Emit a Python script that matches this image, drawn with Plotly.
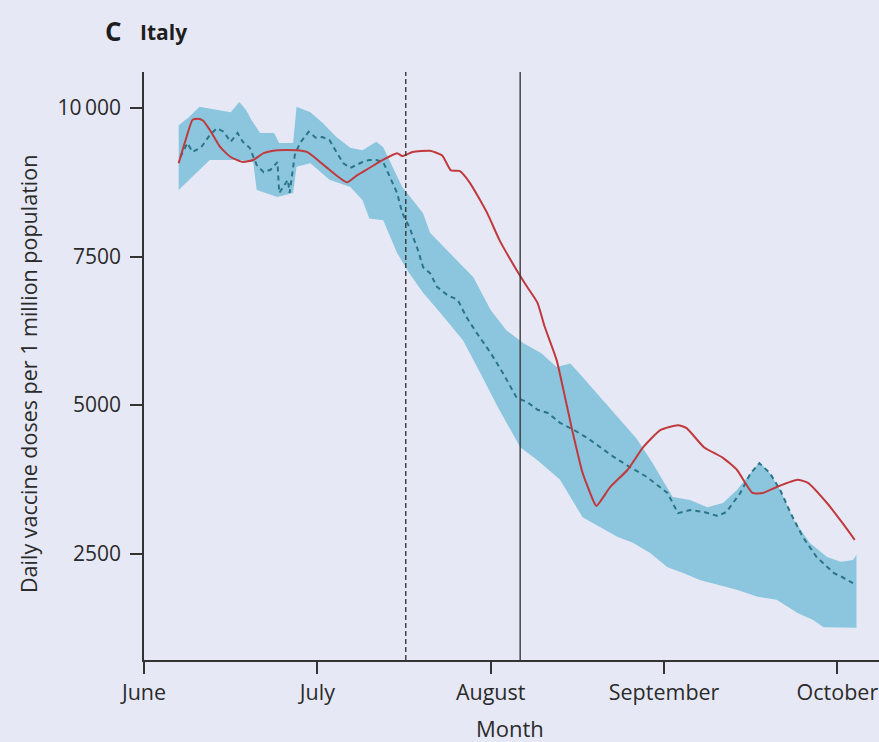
import plotly.graph_objects as go

# x positions are in months after 1 June (0 = June, 1 = July, ...)
month_labels = ["June", "July", "August", "September", "October"]
month_ticks = [0, 1, 2, 3, 4]

y_ticks = [2500, 5000, 7500, 10000]
y_tick_labels = ["2500", "5000", "7500", "10\u2009000"]

# Observed daily doses (red line)
observed_x = [0.20, 0.24, 0.28, 0.31, 0.34, 0.38, 0.44, 0.50, 0.57, 0.63, 0.69, 0.77, 0.88,
              0.94, 1.00, 1.07, 1.17, 1.23, 1.30, 1.38, 1.46, 1.49, 1.55, 1.65, 1.72, 1.77,
              1.82, 1.88, 1.98, 2.05, 2.15, 2.21, 2.27, 2.31, 2.38, 2.42, 2.47, 2.53, 2.59,
              2.61, 2.69, 2.79, 2.88, 2.98, 3.08, 3.13, 3.23, 3.34, 3.42, 3.51, 3.57, 3.65,
              3.77, 3.83, 3.94, 4.03, 4.10]
observed_y = [9070, 9460, 9800, 9820, 9790, 9630, 9340, 9175, 9090, 9125, 9240, 9290, 9290,
              9260, 9130, 8960, 8750, 8870, 8990, 9130, 9240, 9190, 9260, 9280, 9200, 8950,
              8940, 8740, 8230, 7780, 7270, 6990, 6720, 6330, 5760, 5250, 4580, 3860, 3400,
              3300, 3620, 3910, 4290, 4580, 4660, 4610, 4290, 4110, 3910, 3520, 3520, 3620,
              3740, 3690, 3350, 3010, 2730]

# Counterfactual mean (dashed line)
mean_x = [0.21, 0.25, 0.28, 0.33, 0.38, 0.42, 0.46, 0.50, 0.54, 0.57, 0.61, 0.65, 0.69, 0.73,
          0.77, 0.78, 0.83, 0.84, 0.87, 0.90, 0.95, 0.99, 1.03, 1.07, 1.11, 1.15, 1.19, 1.23,
          1.26, 1.30, 1.34, 1.38, 1.42, 1.46, 1.49, 1.53, 1.58, 1.61, 1.65, 1.69, 1.75, 1.81,
          1.86, 1.92, 2.00, 2.07, 2.15, 2.21, 2.27, 2.33, 2.40, 2.48, 2.56, 2.63, 2.71, 2.80,
          2.90, 3.02, 3.08, 3.15, 3.23, 3.31, 3.36, 3.44, 3.50, 3.55, 3.61, 3.67, 3.73, 3.80,
          3.88, 3.98, 4.03, 4.09]
mean_y = [9175, 9410, 9260, 9340, 9545, 9660, 9600, 9430, 9580, 9430, 9330, 9040, 8920, 8960,
          9090, 8570, 8790, 8570, 9210, 9410, 9600, 9500, 9510, 9460, 9260, 9070, 8990, 9040,
          9090, 9125, 9125, 9090, 8840, 8570, 8230, 8000, 7610, 7320, 7220, 6990, 6850, 6770,
          6480, 6210, 5875, 5540, 5120, 5050, 4920, 4865, 4700, 4580, 4440, 4290, 4125, 3960,
          3790, 3520, 3180, 3230, 3200, 3130, 3200, 3520, 3855, 4020, 3855, 3570, 3180, 2780,
          2440, 2170, 2100, 2000]

# Uncertainty interval (shaded band)
upper_x = [0.20, 0.26, 0.32, 0.40, 0.50, 0.55, 0.59, 0.62, 0.67, 0.75, 0.78, 0.86, 0.88, 0.96,
           1.03, 1.11, 1.19, 1.26, 1.34, 1.38, 1.42, 1.49, 1.55, 1.61, 1.65, 1.82, 1.90, 2.00,
           2.09, 2.19, 2.29, 2.38, 2.46, 2.53, 2.61, 2.71, 2.84, 2.93, 2.99, 3.05, 3.15, 3.25,
           3.34, 3.42, 3.50, 3.55, 3.61, 3.67, 3.75, 3.84, 3.94, 4.02, 4.09, 4.11]
upper_y = [9710, 9850, 10020, 9980, 9930, 10100, 9960, 9800, 9580, 9580, 9410, 9410, 10020,
           9930, 9750, 9510, 9330, 9290, 9430, 9340, 9090, 8670, 8450, 8230, 7900, 7390, 7150,
           6600, 6260, 6040, 5875, 5640, 5700, 5470, 5200, 4865, 4440, 4040, 3740, 3450, 3400,
           3280, 3350, 3570, 3855, 4040, 3855, 3570, 3060, 2680, 2440, 2360, 2390, 2475]
lower_x = [0.20, 0.30, 0.38, 0.46, 0.55, 0.63, 0.65, 0.77, 0.86, 0.88, 0.96, 1.07, 1.19, 1.26,
           1.30, 1.38, 1.46, 1.53, 1.61, 1.71, 1.84, 1.94, 2.04, 2.17, 2.27, 2.40, 2.53, 2.63,
           2.73, 2.82, 2.92, 3.02, 3.11, 3.21, 3.31, 3.42, 3.54, 3.65, 3.77, 3.86, 3.92, 4.02,
           4.11]
lower_y = [8620, 8900, 9125, 9125, 9125, 9090, 8620, 8500, 8570, 9010, 9070, 8790, 8670, 8450,
           8140, 8110, 7560, 7220, 6890, 6550, 6090, 5540, 4970, 4290, 4070, 3740, 3110, 2950,
           2780, 2680, 2510, 2270, 2170, 2050, 1970, 1890, 1770, 1720, 1500, 1380, 1260, 1260,
           1250]

# Reference dates marked with vertical lines
announcement_x = 1.51
introduction_x = 2.17

FONT = "Open Sans, Lato, DejaVu Sans, sans-serif"
INK = "#2b2b2b"
BG = "#e6e9f5"

W, H = 879, 742
ML, MR, MT, MB = 144, 0, 72, 82
PW, PH = W - ML - MR, H - MT - MB


def px(x):
    return (x - ML) / PW


def py(y):
    return (H - MB - y) / PH


fig = go.Figure()

band_x = upper_x + lower_x[::-1]
band_y = upper_y + lower_y[::-1]
fig.add_trace(go.Scatter(
    x=band_x, y=band_y, mode="lines", fill="toself",
    fillcolor="rgb(140,198,222)", line=dict(width=0), hoverinfo="skip",
    showlegend=False,
))
fig.add_trace(go.Scatter(
    x=mean_x, y=mean_y, mode="lines",
    line=dict(color="#2b7585", width=2, dash="5px,4px"),
    showlegend=False,
))
fig.add_trace(go.Scatter(
    x=observed_x, y=observed_y, mode="lines",
    line=dict(color="#c0393d", width=2, shape="spline", smoothing=0.5),
    showlegend=False,
))

fig.add_shape(type="line", xref="x", yref="paper", x0=announcement_x, x1=announcement_x,
              y0=0, y1=1, line=dict(color="#3a3a3a", width=1.4, dash="5px,3px"))
fig.add_shape(type="line", xref="x", yref="paper", x0=introduction_x, x1=introduction_x,
              y0=0, y1=1, line=dict(color="#3a3a3a", width=1.4))

fig.add_annotation(text="<b>C</b>", x=px(103), y=py(31), xref="paper", yref="paper",
                   xanchor="left", yanchor="middle", showarrow=False,
                   font=dict(family=FONT, size=26, color="#1e1e1e"))
fig.add_annotation(text="<b>Italy</b>", x=px(138), y=py(32), xref="paper", yref="paper",
                   xanchor="left", yanchor="middle", showarrow=False,
                   font=dict(family=FONT, size=21, color="#1e1e1e"))
fig.add_annotation(text="Daily vaccine doses per 1 million population", textangle=-90,
                   x=px(28), y=py(374), xref="paper", yref="paper",
                   xanchor="center", yanchor="middle", showarrow=False,
                   font=dict(family=FONT, size=21.5, color=INK))
fig.add_annotation(text="Month", x=px(510), y=py(728), xref="paper", yref="paper",
                   xanchor="center", yanchor="middle", showarrow=False,
                   font=dict(family=FONT, size=22, color=INK))

fig.update_layout(
    width=W, height=H,
    margin=dict(l=ML, r=MR, t=MT, b=MB),
    paper_bgcolor=BG, plot_bgcolor=BG,
    font=dict(family=FONT, size=21, color=INK),
    showlegend=False,
)
fig.update_xaxes(
    range=[0, 4.24], tickvals=month_ticks, ticktext=month_labels,
    showline=True, linecolor="#333", linewidth=1.6,
    ticks="outside", ticklen=12, tickwidth=1.5, tickcolor="#333",
    showgrid=False, zeroline=False, fixedrange=True,
    tickfont=dict(family=FONT, size=21.5, color=INK),
)
fig.update_yaxes(
    range=[707, 10606], tickvals=y_ticks, ticktext=y_tick_labels,
    showline=True, linecolor="#333", linewidth=1.6,
    ticks="outside", ticklen=12, tickwidth=1.5, tickcolor="#333",
    ticklabelstandoff=5,
    showgrid=False, zeroline=False, fixedrange=True,
    tickfont=dict(family=FONT, size=21, color=INK),
)

fig.write_html("out.html")
